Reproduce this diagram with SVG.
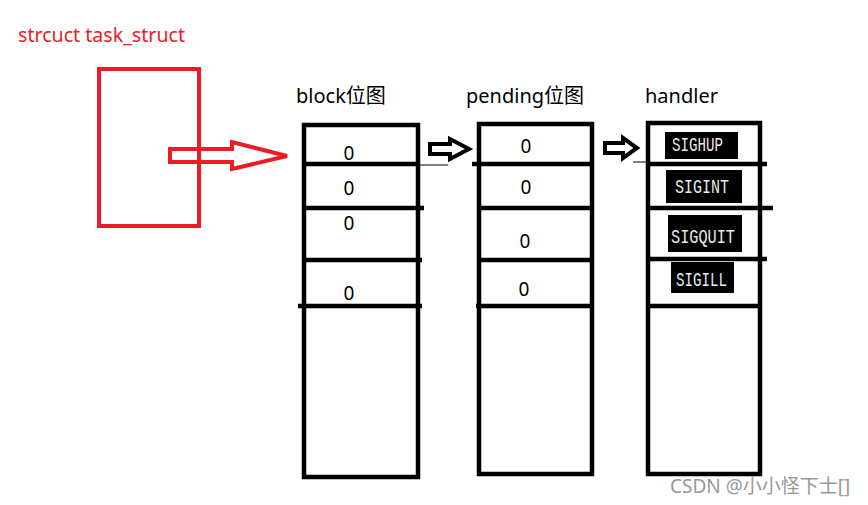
<svg xmlns="http://www.w3.org/2000/svg" width="868" height="505" viewBox="0 0 868 505">
<style>
.lbl{font-family:"Noto Sans","Liberation Sans","Noto Sans CJK SC",sans-serif;font-size:20px;fill:#000}
.zero{font-family:"Noto Sans","Liberation Sans",sans-serif;font-size:19px;fill:#000;text-anchor:middle}
.box{fill:none;stroke:#000;stroke-width:4.5}
.row{stroke:#000;stroke-width:4.5}
.thin{stroke:#000;stroke-width:1}
.sig{font-family:"Liberation Mono","DejaVu Sans Mono",monospace;font-size:20px;fill:#eaeaea}
.harrow{fill:none;stroke:#000;stroke-width:4;stroke-linejoin:miter}
</style>
<rect width="868" height="505" fill="#fff"/>
<g id="task_struct">
<text x="18" y="42" font-family="Noto Sans,Liberation Sans,sans-serif" font-size="19.6" fill="#ed1c24">strcuct task_struct</text>
<rect x="99" y="69" width="100" height="157" fill="none" stroke="#ed1c24" stroke-width="4"/>
</g>
<g id="connectors">
<polygon points="170,149 232,149 232,142 287,156 232,169 232,162 170,162" fill="none" stroke="#ed1c24" stroke-width="4"/>
<polygon class="harrow" points="430,144 450,144 450,139 469,149 450,159 450,154 430,154"/>
<polygon class="harrow" points="605,143 623,143 623,138 637,148 623,158 623,153 605,153"/>
</g>
<g id="block">
<text class="lbl" x="296" y="103">block位图</text>
<rect class="box" x="304" y="125" width="114" height="352"/>
<line class="row" x1="302" y1="164" x2="420" y2="164"/>
<line class="thin" x1="420" y1="165" x2="448" y2="165"/>
<line class="row" x1="302" y1="208" x2="424" y2="208"/>
<line class="row" x1="302" y1="260" x2="422" y2="260"/>
<line class="row" x1="298" y1="306" x2="422" y2="306"/>
<text class="zero" x="349" y="160">0</text>
<text class="zero" x="349" y="195">0</text>
<text class="zero" x="349" y="230">0</text>
<text class="zero" x="349" y="300">0</text>
</g>
<g id="pending">
<text class="lbl" x="466" y="103">pending位图</text>
<rect class="box" x="479" y="124" width="113" height="350"/>
<line class="row" x1="472" y1="164" x2="594" y2="164"/>
<line class="row" x1="479" y1="208" x2="594" y2="208"/>
<line class="row" x1="479" y1="260" x2="594" y2="260"/>
<line class="row" x1="476" y1="306" x2="594" y2="306"/>
<text class="zero" x="526" y="153">0</text>
<text class="zero" x="526" y="194">0</text>
<text class="zero" x="525" y="248">0</text>
<text class="zero" x="524" y="296">0</text>
</g>
<g id="handler">
<text class="lbl" x="645" y="103">handler</text>
<rect class="box" x="648" y="123" width="112" height="351"/>
<line class="thin" x1="633" y1="162" x2="648" y2="162"/>
<line class="row" x1="646" y1="164" x2="767" y2="164"/>
<line class="row" x1="646" y1="208" x2="773" y2="208"/>
<line class="row" x1="646" y1="259" x2="767" y2="259"/>
<line class="row" x1="646" y1="306" x2="760" y2="306"/>
<rect x="665" y="132" width="73" height="27" fill="#000"/>
<text class="sig" x="672" y="151" font-size="17" textLength="51" lengthAdjust="spacingAndGlyphs">SIGHUP</text>
<rect x="666" y="170" width="76" height="33" fill="#000"/>
<text class="sig" x="675" y="193" textLength="54" lengthAdjust="spacingAndGlyphs">SIGINT</text>
<rect x="668" y="215" width="74" height="37" fill="#000"/>
<text class="sig" x="671" y="243" font-size="23" textLength="64" lengthAdjust="spacingAndGlyphs">SIGQUIT</text>
<rect x="671" y="262" width="63" height="31" fill="#000"/>
<text class="sig" x="676" y="286" textLength="51" lengthAdjust="spacingAndGlyphs">SIGILL</text>
</g>
<text x="670" y="493" font-family="Noto Sans,Liberation Sans,Noto Sans CJK SC,sans-serif" font-size="19" fill="#999">CSDN @小小怪下士[]</text>
</svg>
